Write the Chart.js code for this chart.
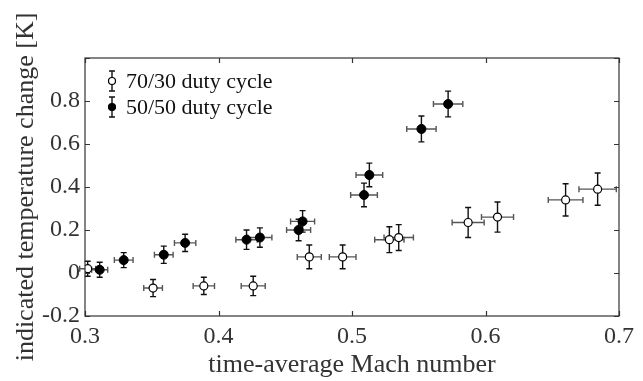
<!DOCTYPE html>
<html>
<head>
<meta charset="utf-8">
<script src="https://cdn.jsdelivr.net/npm/chart.js@4/dist/chart.umd.min.js"></script>
<style>
  html, body { margin: 0; padding: 0; background: #fff; }
  #wrap { width: 643px; height: 381px; }
</style>
</head>
<body>
<div id="wrap"><canvas id="chart" width="643" height="381"></canvas></div>
<script>
const FONT = "'Liberation Serif', 'DejaVu Serif', serif";
const INK = "#333";

// 70/30 duty cycle (open markers)
const machOpen = [0.302, 0.351, 0.389, 0.426, 0.468, 0.493, 0.528, 0.535, 0.587, 0.609, 0.660, 0.684];
const tempOpen = [0.02, -0.07, -0.06, -0.06, 0.075, 0.075, 0.155, 0.165, 0.235, 0.26, 0.34, 0.39];
const xErrOpen = [0.006, 0.007, 0.008, 0.009, 0.009, 0.010, 0.011, 0.011, 0.012, 0.012, 0.013, 0.014];
const yErrOpen = [0.035, 0.04, 0.04, 0.045, 0.055, 0.055, 0.06, 0.06, 0.07, 0.07, 0.075, 0.075];

// 50/50 duty cycle (filled markers)
const machFilled = [0.311, 0.329, 0.359, 0.375, 0.421, 0.431, 0.460, 0.463, 0.509, 0.513, 0.552, 0.572];
const tempFilled = [0.015, 0.06, 0.085, 0.14, 0.155, 0.165, 0.20, 0.24, 0.363, 0.456, 0.67, 0.786];
const xErrFilled = [0.006, 0.007, 0.007, 0.008, 0.008, 0.009, 0.009, 0.009, 0.010, 0.010, 0.011, 0.011];
const yErrFilled = [0.035, 0.035, 0.04, 0.04, 0.045, 0.045, 0.05, 0.05, 0.055, 0.055, 0.06, 0.06];

const seriesLabels = ["70/30 duty cycle", "50/50 duty cycle"];
const xTicks = [0.3, 0.4, 0.5, 0.6, 0.7];
const yTicks = [-0.2, 0, 0.2, 0.4, 0.6, 0.8, 1.0];

const toPoints = (xs, ys) => xs.map((x, i) => ({ x, y: ys[i] }));
const errs = [
  { dx: xErrOpen, dy: yErrOpen },
  { dx: xErrFilled, dy: yErrFilled },
];

function drawErrBar(ctx, x, y, dxPx, dyTop, dyBot) {
  const cap = 3;
  ctx.lineWidth = 1.4;
  // horizontal
  ctx.strokeStyle = "#555";
  ctx.beginPath();
  ctx.moveTo(x - dxPx, y); ctx.lineTo(x + dxPx, y);
  ctx.moveTo(x - dxPx, y - cap); ctx.lineTo(x - dxPx, y + cap);
  ctx.moveTo(x + dxPx, y - cap); ctx.lineTo(x + dxPx, y + cap);
  ctx.stroke();
  // vertical
  ctx.strokeStyle = "#111";
  ctx.beginPath();
  ctx.moveTo(x, dyTop); ctx.lineTo(x, dyBot);
  ctx.moveTo(x - cap, dyTop); ctx.lineTo(x + cap, dyTop);
  ctx.moveTo(x - cap, dyBot); ctx.lineTo(x + cap, dyBot);
  ctx.stroke();
}

const errorBars = {
  id: "errorBars",
  beforeDatasetsDraw(chart) {
    const { ctx, scales: { x, y } } = chart;
    ctx.save();
    chart.data.datasets.forEach((ds, di) => {
      ds.data.forEach((p, i) => {
        const px = x.getPixelForValue(p.x);
        const py = y.getPixelForValue(p.y);
        const dxPx = x.getPixelForValue(p.x + errs[di].dx[i]) - px;
        drawErrBar(ctx, px, py, dxPx,
          y.getPixelForValue(p.y + errs[di].dy[i]),
          y.getPixelForValue(p.y - errs[di].dy[i]));
      });
    });
    ctx.restore();
  }
};

const frameAndLegend = {
  id: "frameAndLegend",
  afterDraw(chart) {
    const { ctx, chartArea: a, scales: { x, y } } = chart;
    ctx.save();
    ctx.strokeStyle = INK;
    ctx.lineWidth = 1.2;
    ctx.strokeRect(a.left, a.top, a.right - a.left, a.bottom - a.top);
    const tl = 5;
    ctx.beginPath();
    xTicks.forEach(v => {
      const px = Math.round(x.getPixelForValue(v)) + 0.5;
      ctx.moveTo(px, a.bottom); ctx.lineTo(px, a.bottom - tl);
      ctx.moveTo(px, a.top); ctx.lineTo(px, a.top + tl);
    });
    yTicks.forEach(v => {
      const py = Math.round(y.getPixelForValue(v)) + 0.5;
      ctx.moveTo(a.left, py); ctx.lineTo(a.left + tl, py);
      ctx.moveTo(a.right, py); ctx.lineTo(a.right - tl, py);
    });
    ctx.stroke();

    // legend
    const lx = 112, rows = [81, 107];
    rows.forEach((ly, i) => {
      ctx.strokeStyle = "#111";
      ctx.lineWidth = 1.4;
      ctx.beginPath();
      ctx.moveTo(lx, ly - 10); ctx.lineTo(lx, ly + 10);
      ctx.moveTo(lx - 3, ly - 10); ctx.lineTo(lx + 3, ly - 10);
      ctx.moveTo(lx - 3, ly + 10); ctx.lineTo(lx + 3, ly + 10);
      ctx.stroke();
      ctx.beginPath();
      ctx.arc(lx, ly, 3.5, 0, Math.PI * 2);
      ctx.fillStyle = i === 0 ? "#fff" : "#000";
      ctx.fill();
      ctx.lineWidth = 1.2;
      ctx.strokeStyle = "#000";
      ctx.stroke();
      ctx.fillStyle = "#111";
      ctx.font = "22px " + FONT;
      ctx.textBaseline = "middle";
      ctx.fillText(seriesLabels[i], 126, ly + 1);
    });
    ctx.restore();
  }
};

new Chart(document.getElementById("chart"), {
  type: "scatter",
  data: {
    datasets: [
      {
        label: seriesLabels[0],
        data: toPoints(machOpen, tempOpen),
        pointRadius: 4,
        pointBackgroundColor: "#fff",
        pointBorderColor: "#000",
        pointBorderWidth: 1.2,
      },
      {
        label: seriesLabels[1],
        data: toPoints(machFilled, tempFilled),
        pointRadius: 4.5,
        pointBackgroundColor: "#000",
        pointBorderColor: "#000",
        pointBorderWidth: 1,
      }
    ]
  },
  options: {
    responsive: false,
    animation: false,
    devicePixelRatio: 1,
    layout: { padding: { top: 58, right: 24, left: 0, bottom: 0 } },
    plugins: { legend: { display: false }, tooltip: { enabled: false } },
    scales: {
      x: {
        type: "linear",
        min: 0.3, max: 0.7,
        afterFit: (s) => { s.height = 65; },
        afterBuildTicks: (s) => { s.ticks = xTicks.map(v => ({ value: v })); },
        grid: { display: false, drawTicks: false },
        border: { display: false },
        ticks: {
          padding: 6,
          color: INK,
          font: { family: FONT, size: 24 },
          callback: (v) => (Math.round(v * 10) / 10).toFixed(1),
        },
        title: {
          display: true,
          text: "time-average Mach number",
          color: INK,
          font: { family: FONT, size: 26 },
          padding: { top: 0, bottom: 0 },
        }
      },
      y: {
        type: "linear",
        min: -0.2, max: 1.0,
        afterFit: (s) => { s.width = 85; },
        afterBuildTicks: (s) => { s.ticks = yTicks.map(v => ({ value: v })); },
        grid: { display: false, drawTicks: false },
        border: { display: false },
        ticks: {
          padding: 5,
          color: INK,
          font: { family: FONT, size: 24 },
          callback: (v) => {
            const r = Math.round(v * 10) / 10;
            if (r >= 1) return "";
            return r === 0 ? "0" : r.toFixed(1);
          },
        },
        title: {
          display: true,
          text: "indicated temperature change [K]",
          color: INK,
          font: { family: FONT, size: 26 },
          padding: { top: 11, bottom: 0 },
        }
      }
    }
  },
  plugins: [errorBars, frameAndLegend]
});
</script>
</body>
</html>
